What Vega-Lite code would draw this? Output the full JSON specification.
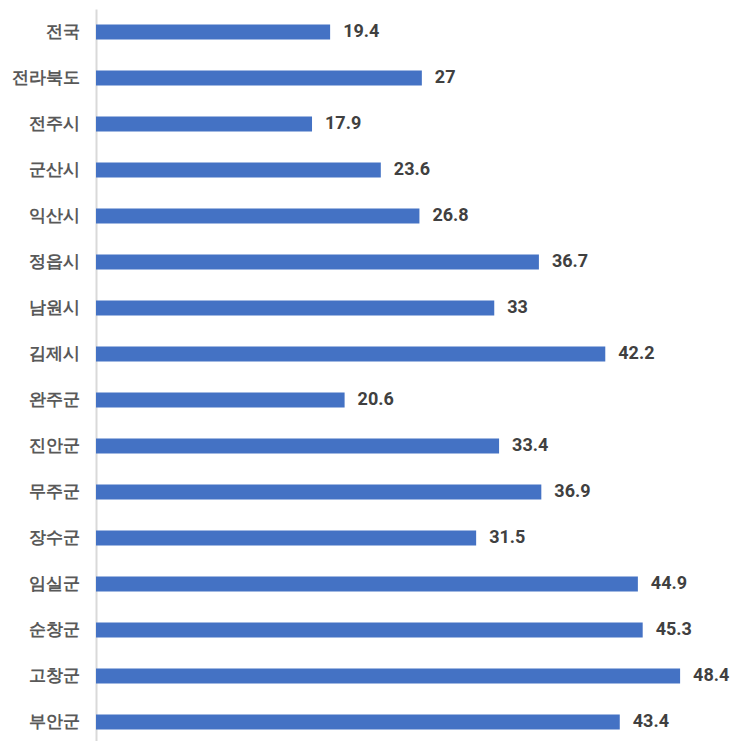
{
  "$schema": "https://vega.github.io/schema/vega-lite/v6.json",
  "width": 636,
  "height": 736,
  "autosize": {"type": "none"},
  "padding": {"left": 96, "top": 9, "right": 0, "bottom": 0},
  "background": "white",
  "config": {"view": {"stroke": null}},
  "data": {"values": [
    {"region": "전국", "value": 19.4},
    {"region": "전라북도", "value": 27},
    {"region": "전주시", "value": 17.9},
    {"region": "군산시", "value": 23.6},
    {"region": "익산시", "value": 26.8},
    {"region": "정읍시", "value": 36.7},
    {"region": "남원시", "value": 33},
    {"region": "김제시", "value": 42.2},
    {"region": "완주군", "value": 20.6},
    {"region": "진안군", "value": 33.4},
    {"region": "무주군", "value": 36.9},
    {"region": "장수군", "value": 31.5},
    {"region": "임실군", "value": 44.9},
    {"region": "순창군", "value": 45.3},
    {"region": "고창군", "value": 48.4},
    {"region": "부안군", "value": 43.4}
  ]},
  "encoding": {
    "y": {
      "field": "region", "type": "nominal", "sort": null,
      "scale": {"paddingInner": 0.67, "paddingOuter": 0.335},
      "axis": {
        "title": null, "ticks": false, "domainColor": "#d9d9d9", "domainWidth": 2,
        "labelFont": "Roboto", "labelFontSize": 17, "labelFontWeight": "bold",
        "labelColor": "#595959", "labelPadding": 17
      }
    },
    "x": {
      "field": "value", "type": "quantitative",
      "scale": {"domain": [0, 52.7], "nice": false},
      "axis": null
    }
  },
  "layer": [
    {"mark": {"type": "bar", "color": "#4472C4"}},
    {"mark": {"type": "text", "align": "left", "baseline": "middle", "dx": 13, "font": "Roboto", "fontSize": 18, "fontWeight": "bold", "color": "#404040"},
     "encoding": {"text": {"field": "value", "type": "quantitative"}}}
  ]
}
